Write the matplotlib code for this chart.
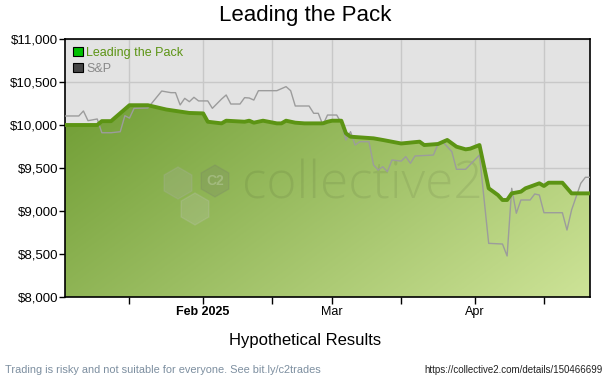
import numpy as np
import pandas as pd
import matplotlib
matplotlib.use("Agg")
import matplotlib.pyplot as plt
import matplotlib.dates as mdates
from matplotlib.patches import Patch, RegularPolygon
from matplotlib.colors import to_rgb
from matplotlib.ticker import FuncFormatter

plt.rcParams['font.family'] = ['Liberation Sans', 'DejaVu Sans']

# strategy equity ("Leading the Pack")
pack_dates = ['2025-01-02', '2025-01-09', '2025-01-10', '2025-01-12', '2025-01-16', '2025-01-20',
              '2025-01-24', '2025-01-29', '2025-02-01', '2025-02-02', '2025-02-05', '2025-02-06',
              '2025-02-10', '2025-02-11', '2025-02-12', '2025-02-14', '2025-02-17', '2025-02-18',
              '2025-02-19', '2025-02-21', '2025-02-23', '2025-02-27', '2025-02-28', '2025-03-01',
              '2025-03-03', '2025-03-04', '2025-03-05', '2025-03-10', '2025-03-12', '2025-03-16',
              '2025-03-20', '2025-03-21', '2025-03-24', '2025-03-26', '2025-03-28', '2025-03-30',
              '2025-03-31', '2025-04-02', '2025-04-04', '2025-04-06', '2025-04-07', '2025-04-08',
              '2025-04-09', '2025-04-11', '2025-04-12', '2025-04-13', '2025-04-15', '2025-04-16',
              '2025-04-17', '2025-04-20', '2025-04-22', '2025-04-26']
pack_values = [10000, 10000, 10045, 10045, 10230, 10230,
               10180, 10140, 10135, 10038, 10019, 10050,
               10038, 10050, 10027, 10050, 10019, 10019,
               10050, 10027, 10019, 10019, 10038, 10050,
               10050, 9903, 9864, 9845, 9826, 9785,
               9806, 9767, 9779, 9826, 9748, 9717,
               9725, 9767, 9264, 9186, 9128, 9128,
               9205, 9225, 9264, 9283, 9322, 9291,
               9329, 9329, 9205, 9205]

# S&P benchmark scaled to $10,000
sp_dates = ['2025-01-02', '2025-01-05', '2025-01-06', '2025-01-07', '2025-01-09', '2025-01-10',
            '2025-01-12', '2025-01-14', '2025-01-15', '2025-01-16', '2025-01-17', '2025-01-20',
            '2025-01-23', '2025-01-25', '2025-01-26', '2025-01-27', '2025-01-28', '2025-01-29',
            '2025-01-30', '2025-01-31', '2025-02-02', '2025-02-03', '2025-02-05', '2025-02-06',
            '2025-02-07', '2025-02-09', '2025-02-10', '2025-02-11', '2025-02-12', '2025-02-13',
            '2025-02-17', '2025-02-19', '2025-02-20', '2025-02-21', '2025-02-24', '2025-02-25',
            '2025-02-26', '2025-02-27', '2025-02-28', '2025-03-02', '2025-03-03', '2025-03-04',
            '2025-03-05', '2025-03-06', '2025-03-07', '2025-03-09', '2025-03-10', '2025-03-11',
            '2025-03-12', '2025-03-13', '2025-03-14', '2025-03-16', '2025-03-17', '2025-03-18',
            '2025-03-19', '2025-03-21', '2025-03-23', '2025-03-24', '2025-03-25', '2025-03-27',
            '2025-03-28', '2025-03-30', '2025-04-02', '2025-04-04', '2025-04-07', '2025-04-08',
            '2025-04-09', '2025-04-10', '2025-04-11', '2025-04-13', '2025-04-14', '2025-04-15',
            '2025-04-16', '2025-04-20', '2025-04-21', '2025-04-22', '2025-04-24', '2025-04-25',
            '2025-04-26']
sp_values = [10105, 10105, 10163, 10050, 10070, 9910,
             9910, 9922, 10108, 10080, 10194, 10198,
             10395, 10376, 10376, 10233, 10310, 10271,
             10322, 10280, 10280, 10194, 10302, 10349,
             10244, 10244, 10318, 10314, 10290, 10399,
             10399, 10446, 10399, 10221, 10221, 10136,
             10136, 10000, 10116, 10116, 10023, 9826,
             9922, 9767, 9806, 9806, 9535, 9477,
             9515, 9457, 9593, 9580, 9632, 9555,
             9640, 9645, 9651, 9779, 9806, 9690,
             9485, 9485, 9651, 8624, 8616, 8477,
             9264, 8974, 9128, 9128, 9198, 9186,
             8980, 8980, 8779, 9012, 9322, 9392,
             9392]

y_ticks = [8000, 8500, 9000, 9500, 10000, 10500, 11000]

pack_x = pd.to_datetime(pack_dates)
sp_x = pd.to_datetime(sp_dates)

fig = plt.figure(figsize=(6.1, 3.8), dpi=100)
ax = fig.add_axes([65 / 610, 1 - 297 / 380, 525 / 610, 258 / 380])
ax.set_facecolor('#e3e3e3')

# gradient fill under the strategy line
fill = ax.fill_between(pack_x, pack_values, 8000, color='none', lw=0)
n = 200
u = np.linspace(0, 1, n)
uu, vv = np.meshgrid(u, u)  # vv = 0 at top row
t = np.clip(0.6 * uu + 0.4 * vv, 0, 1)[..., None]
c0 = np.array(to_rgb('#66962a'))
c1 = np.array(to_rgb('#cde397'))
grad = c0 * (1 - t) + c1 * t
im = ax.imshow(grad, extent=[0, 1, 0, 1], transform=ax.transAxes, aspect='auto',
               origin='upper', zorder=1)
im.set_clip_path(fill.get_paths()[0], transform=ax.transData)

ax.plot(sp_x, sp_values, color='#9c9c9c', lw=1, zorder=3)
ax.plot(pack_x, pack_values, color='#5c9414', lw=2.8, zorder=4, solid_joinstyle='round')

# watermark
ax.text((362 - 65) / 525, (297 - 185) / 258, 'collective2', transform=ax.transAxes,
        fontsize=37, color='#000000', alpha=0.07, ha='center', va='center',
        family='Open Sans', fontweight='light', zorder=2)
for (cx, cy), col, a in [((178, 183), '#b0b0b0', 0.22), ((215, 181), '#707070', 0.18),
                         ((195, 209), '#c8c8c8', 0.2)]:
    ax.add_patch(RegularPolygon((cx, 380 - cy), 6, radius=16, orientation=0,
                                transform=None, color=col, alpha=a, zorder=2))
fig.text(215 / 610, 1 - 181 / 380, 'C2', fontsize=10, fontweight='bold', color='#ffffff',
         alpha=0.22, ha='center', va='center')

ax.set_xlim(pack_x[0], pack_x[-1])
ax.set_ylim(8000, 11000)
ax.set_yticks(y_ticks)
ax.yaxis.set_major_formatter(FuncFormatter(lambda v, p: '${:,.0f}'.format(v)))

ax.xaxis.set_major_locator(mdates.MonthLocator(bymonthday=1))
ax.xaxis.set_minor_locator(mdates.MonthLocator(bymonthday=16))
ax.xaxis.set_major_formatter(FuncFormatter(
    lambda v, p: mdates.num2date(v).strftime('%b %Y') if mdates.num2date(v).month == 2
    else mdates.num2date(v).strftime('%b')))
ax.xaxis.set_minor_formatter(FuncFormatter(lambda v, p: ''))

ax.grid(True, which='both', color='#c8c8c8', lw=1, zorder=0)
ax.set_axisbelow(True)
ax.tick_params(axis='y', which='both', direction='out', length=4, width=1,
               labelsize=9.5, colors='#000000', pad=1)
ax.tick_params(axis='x', which='both', direction='out', length=5, width=1,
               labelsize=9, colors='#000000', pad=1.5)
for s in ax.spines.values():
    s.set_color('#000000')
    s.set_linewidth(1.2)

fig.canvas.draw()
for lab in ax.get_xticklabels():
    if 'Feb' in lab.get_text():
        lab.set_fontweight('bold')

handles = [Patch(facecolor='#00c000', edgecolor='#000000', lw=0.8),
           Patch(facecolor='#444444', edgecolor='#000000', lw=0.8)]
leg = ax.legend(handles, ['Leading the Pack', 'S&P'], loc='upper left', frameon=False,
                prop={'size': 9}, handlelength=0.75, handleheight=0.75, handletextpad=0.3,
                labelspacing=0.3, borderaxespad=0.25, labelcolor=['#5c9414', '#888888'])
leg.set_zorder(5)

fig.text(0.5, 1 - 16 / 380, 'Leading the Pack', ha='center', va='center', fontsize=16)
fig.text(0.5, 1 - 340 / 380, 'Hypothetical Results', ha='center', va='center', fontsize=12)
fig.text(5 / 610, 1 - 370 / 380, 'Trading is risky and not suitable for everyone. See bit.ly/c2trades',
         ha='left', va='center', fontsize=7.9, color='#7d8fa0')
fig.text(603 / 610, 1 - 370 / 380, 'https://collective2.com/details/150466699',
         ha='right', va='center', fontsize=7, color='#222222')

fig.savefig('out.png', dpi=100)
